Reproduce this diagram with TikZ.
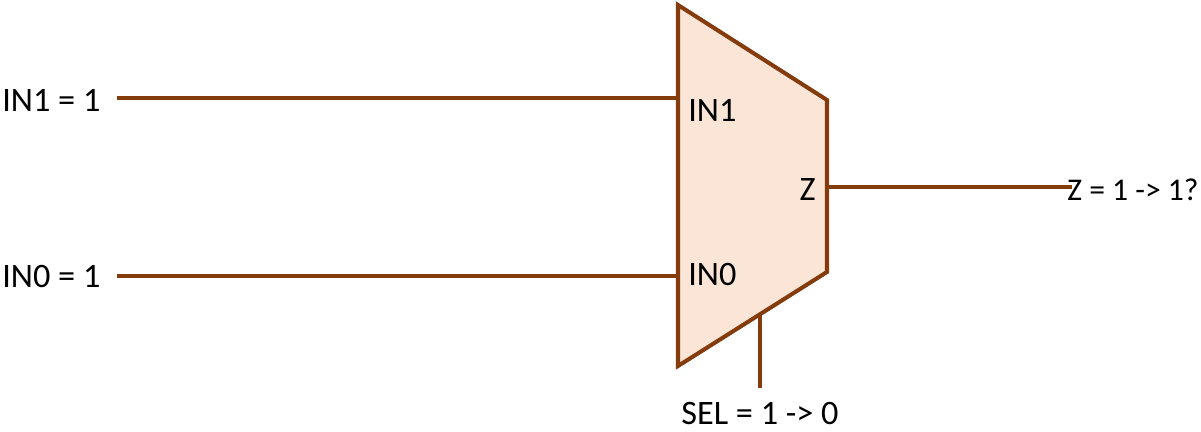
\documentclass[tikz,border=0pt]{standalone}
\usepackage{fontspec}
\setmainfont{Carlito}
\usetikzlibrary{positioning}
\definecolor{wirebrown}{HTML}{843C0C}
\definecolor{muxfill}{HTML}{FBE5D6}
\tikzset{
    wire/.style={draw=wirebrown,line width=2.3pt},
    lbl/.style={inner sep=0pt,font=\fontsize{19.5}{22}\selectfont},
}
\begin{document}
\begin{tikzpicture}[x=0.02cm,y=-0.02cm,line join=miter]
    \useasboundingbox (0,0) rectangle (1201,432);

    % --- Mux body ---
    \coordinate (tl) at (678,5);
    \coordinate (tr) at (827,100);
    \coordinate (br) at (827,272);
    \coordinate (bl) at (678,366);
    \filldraw[wire,fill=muxfill] (tl) -- (tr) -- (br) -- (bl) -- cycle;

    % Pins
    \coordinate (pin1) at (678,98);
    \coordinate (pin0) at (678,276);
    \coordinate (pinz) at (827,187);
    \coordinate (pinsel) at (760,314);

    % Wire ends
    \coordinate (in1end) at (117,98);
    \coordinate (in0end) at (117,276);
    \coordinate (zend) at (1072,187);
    \coordinate (selend) at (760,388);

    \draw[wire] (in1end) -- (pin1);
    \draw[wire] (in0end) -- (pin0);
    \draw[wire] (pinz) -- (zend);
    \draw[wire] (pinsel) -- (selend);

    % Outside labels
    \node[lbl,anchor=west] (in1lbl) at (2,100) {IN1 = 1};
    \node[lbl,anchor=west] (in0lbl) at (2,277) {IN0 = 1};
    \node[lbl,anchor=east,font=\fontsize{18}{20}\selectfont] (zlbl) at (1199,190) {Z = 1 -> 1?};
    \node[lbl] (sellbl) at (760,414) {SEL = 1 -> 0};

    % Inside labels
    \node[lbl,anchor=west] (in1pin) at (688,110) {IN1};
    \node[lbl,anchor=west] (in0pin) at (688,275) {IN0};
    \node[lbl,anchor=east] (zpin) at (816,190) {Z};
\end{tikzpicture}
\end{document}
